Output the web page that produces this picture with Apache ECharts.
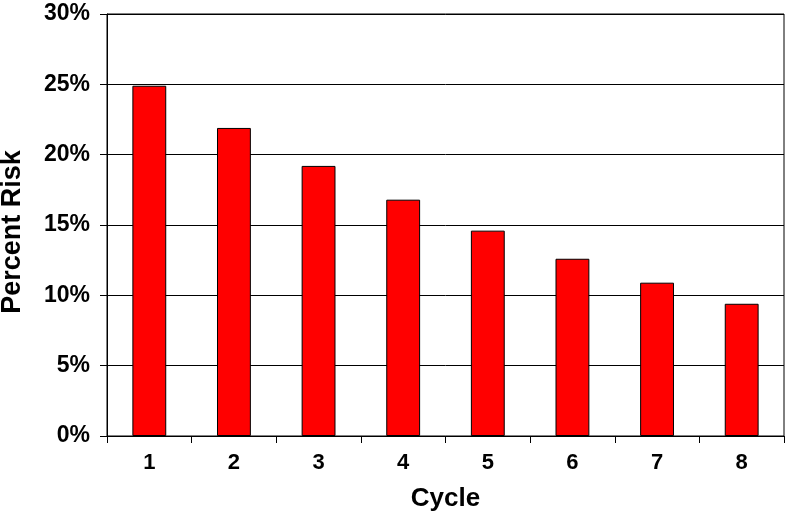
<!DOCTYPE html>
<html>
<head>
<meta charset="utf-8">
<script src="https://cdn.jsdelivr.net/npm/echarts@6/dist/echarts.min.js"></script>
<style>html,body{margin:0;padding:0;background:#fff}#c{width:786px;height:516px}</style>
</head>
<body>
<div id="c"></div>
<script>
var categories = ['1','2','3','4','5','6','7','8'];
var riskValues = [24.9, 21.9, 19.2, 16.8, 14.6, 12.6, 10.9, 9.4];
var yTicks = [0, 5, 10, 15, 20, 25, 30];

var chart = echarts.init(document.getElementById('c'));
var font = 'Liberation Sans, Arial, Helvetica, sans-serif';
chart.setOption({
  animation: false,
  backgroundColor: '#fff',
  grid: { left: 107, right: 2, top: 14, bottom: 80, containLabel: false, outerBoundsMode: 'none', show: true, borderColor: '#000', borderWidth: 1 },
  xAxis: {
    type: 'category',
    data: categories,
    name: 'Cycle',
    nameLocation: 'middle',
    nameGap: 50,
    nameTextStyle: { fontFamily: font, fontWeight: 'bold', fontSize: 26, color: '#000' },
    axisLine: { lineStyle: { color: '#000', width: 1 } },
    axisTick: { show: true, length: 7, lineStyle: { color: '#000' } },
    axisLabel: { margin: 16, fontFamily: font, fontWeight: 'bold', fontSize: 22, color: '#000' }
  },
  yAxis: {
    type: 'value',
    min: yTicks[0],
    max: yTicks[yTicks.length - 1],
    interval: 5,
    name: 'Percent Risk',
    nameLocation: 'middle',
    nameGap: 81,
    nameTextStyle: { fontFamily: font, fontWeight: 'bold', fontSize: 27, color: '#000', padding: [0, 14, 0, 0] },
    axisLine: { show: true, lineStyle: { color: '#000', width: 1 } },
    axisTick: { show: true, length: 7, lineStyle: { color: '#000' } },
    splitLine: { show: true, lineStyle: { color: '#000', width: 1 } },
    axisLabel: { margin: 17, fontFamily: font, fontWeight: 'bold', fontSize: 23, color: '#000', formatter: '{value}%' }
  },
  series: [{
    type: 'bar',
    data: riskValues,
    barWidth: '40%',
    itemStyle: { color: '#ff0000', borderColor: '#000', borderWidth: 1 }
  }]
});
</script>
</body>
</html>
